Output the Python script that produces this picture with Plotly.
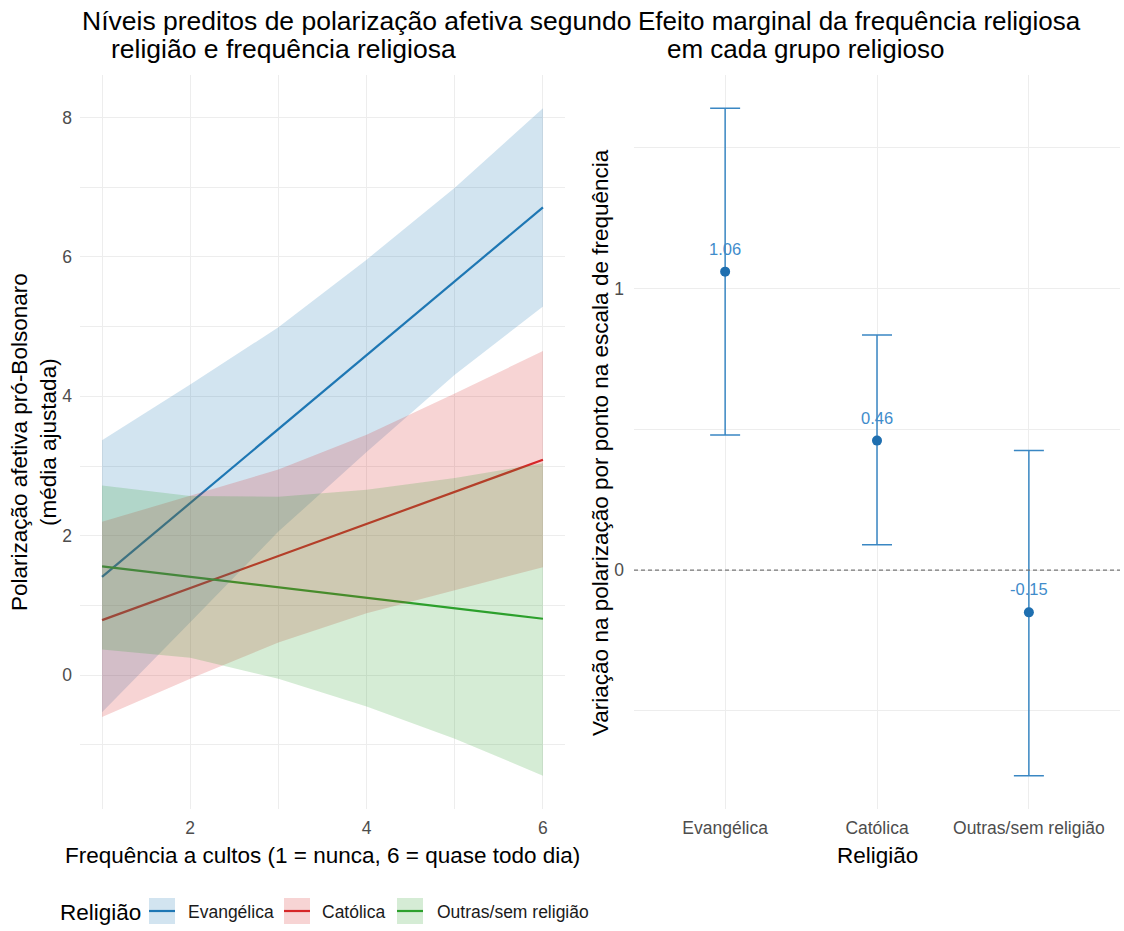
import plotly.graph_objects as go
from plotly.subplots import make_subplots

# ---------------- data ----------------
freq = [1, 2, 3, 4, 5, 6]
freq_ticks = [2, 4, 6]

evang_fit = [1.41, 2.47, 3.53, 4.59, 5.65, 6.71]
evang_lo = [-0.53, 0.76, 2.06, 3.20, 4.31, 5.29]
evang_hi = [3.37, 4.17, 4.99, 5.96, 6.99, 8.13]

cat_fit = [0.79, 1.25, 1.71, 2.17, 2.63, 3.09]
cat_lo = [-0.60, -0.05, 0.47, 0.89, 1.22, 1.55]
cat_hi = [2.20, 2.57, 2.95, 3.45, 4.04, 4.65]

outras_fit = [1.56, 1.41, 1.26, 1.11, 0.96, 0.81]
outras_lo = [0.37, 0.25, -0.05, -0.45, -0.91, -1.44]
outras_hi = [2.72, 2.57, 2.56, 2.66, 2.83, 3.04]

religioes = ["Evangélica", "Católica", "Outras/sem religião"]
efeito = [1.06, 0.46, -0.15]
efeito_lo = [0.48, 0.09, -0.73]
efeito_hi = [1.64, 0.835, 0.425]

# ---------------- style ----------------
W, H = 1124, 931
FONT = "Liberation Sans, Arial, sans-serif"
COLORS = ["#1f77b4", "#d62728", "#2ca02c"]
FILLS = ["rgba(31,119,180,0.2)", "rgba(214,39,40,0.2)", "rgba(44,160,44,0.2)"]
GRID = "#ededed"
TICKC = "#4d4d4d"


def px(x):
    return x / W


def py(y):
    return 1 - y / H


fig = make_subplots(rows=1, cols=2)

series = [
    (religioes[0], evang_fit, evang_lo, evang_hi),
    (religioes[1], cat_fit, cat_lo, cat_hi),
    (religioes[2], outras_fit, outras_lo, outras_hi),
]

# lines first (ribbons drawn over them, as in the reference)
for i, (name, fit, lo, hi) in enumerate(series):
    fig.add_trace(go.Scatter(x=freq, y=fit, mode="lines", name=name,
                             line=dict(color=COLORS[i], width=2.2),
                             showlegend=False), row=1, col=1)
for i, (name, fit, lo, hi) in enumerate(series):
    fig.add_trace(go.Scatter(x=freq + freq[::-1], y=hi + lo[::-1], mode="lines",
                             fill="toself", fillcolor=FILLS[i],
                             line=dict(width=0), name=name, hoverinfo="skip",
                             showlegend=False), row=1, col=1)

# right panel: marginal effects
err_plus = [h - e for h, e in zip(efeito_hi, efeito)]
err_minus = [e - l for e, l in zip(efeito, efeito_lo)]
fig.add_trace(go.Scatter(x=religioes, y=efeito, mode="markers",
                         marker=dict(color="#1f6fb0", size=10),
                         error_y=dict(type="data", array=err_plus, arrayminus=err_minus,
                                      color="#3a87c3", thickness=1.5, width=15),
                         showlegend=False), row=1, col=2)

# ranges (ggplot-like 5% expansion)
ly_min = min(evang_lo + cat_lo + outras_lo)
ly_max = max(evang_hi + cat_hi + outras_hi)
lpad = 0.05 * (ly_max - ly_min)
ry_min = min(efeito_lo)
ry_max = max(efeito_hi)
rpad = 0.05 * (ry_max - ry_min)

ydom = [py(809), py(75)]
axis_common = dict(showline=False, zeroline=False, ticks="", gridcolor=GRID, gridwidth=1.4,
                   tickfont=dict(family=FONT, size=17.5, color=TICKC))

fig.update_layout(
    width=W, height=H, margin=dict(l=0, r=0, t=0, b=0),
    plot_bgcolor="white", paper_bgcolor="white",
    font=dict(family=FONT),
    xaxis=dict(domain=[px(80), px(565)], range=[0.75, 6.25], tickmode="array",
               tickvals=freq_ticks, ticklabelstandoff=6,
               minor=dict(dtick=1, tick0=0, showgrid=True, gridcolor=GRID, gridwidth=0.9),
               **axis_common),
    yaxis=dict(domain=ydom, range=[ly_min - lpad, ly_max + lpad], dtick=2, tick0=0,
               ticklabelstandoff=7,
               minor=dict(dtick=1, tick0=0, showgrid=True, gridcolor=GRID, gridwidth=0.9),
               **axis_common),
    xaxis2=dict(domain=[px(634), px(1120)], range=[-0.6, 2.6], type="category",
                ticklabelstandoff=6, **axis_common),
    yaxis2=dict(domain=ydom, range=[ry_min - rpad, ry_max + rpad], dtick=1, tick0=0,
                ticklabelstandoff=9,
                minor=dict(dtick=0.5, tick0=0, showgrid=True, gridcolor=GRID, gridwidth=0.9),
                **axis_common),
)

# dashed zero line
fig.add_shape(type="line", xref="x2 domain", yref="y2", x0=0, x1=1, y0=0, y1=0,
              line=dict(color="#777777", width=1.1, dash="4px,3px"))

# value labels
for r, e in zip(religioes, efeito):
    fig.add_annotation(x=r, y=e, xref="x2", yref="y2", text=f"{e:.2f}", showarrow=False,
                       yshift=23, font=dict(family=FONT, size=16.5, color="#3f8ccb"))


def ann(text, x, y, size, color="black", xanchor="left", angle=0):
    fig.add_annotation(text=text, x=px(x), y=py(y), xref="paper", yref="paper",
                       showarrow=False, xanchor=xanchor, yanchor="middle",
                       textangle=angle, font=dict(family=FONT, size=size, color=color))


# titles
ann("Níveis preditos de polarização afetiva segundo", 80, 21, 26.5)
ann("religião e frequência religiosa", 109, 49, 26.5)
ann("Efeito marginal da frequência religiosa", 636, 21, 26)
ann("em cada grupo religioso", 665, 49, 26)

# axis titles
ann("Frequência a cultos (1 = nunca, 6 = quase todo dia)", 322.5, 855, 22.5, xanchor="center")
ann("Religião", 877, 855, 22.5, xanchor="center")
ann("Polarização afetiva pró-Bolsonaro<br>(média ajustada)", 34, 442, 22.5,
    xanchor="center", angle=-90)
ann("Variação na polarização por ponto na escala de frequência", 600, 442, 22.5,
    xanchor="center", angle=-90)

# manual legend (ggplot style keys)
ann("Religião", 58, 912, 22.5)
key_x = [149, 284, 397]
text_x = [186, 320, 435]
for i, name in enumerate(religioes):
    fig.add_shape(type="rect", xref="paper", yref="paper",
                  x0=px(key_x[i]), x1=px(key_x[i] + 26), y0=py(924), y1=py(898),
                  fillcolor=FILLS[i], line=dict(width=0))
    fig.add_shape(type="line", xref="paper", yref="paper",
                  x0=px(key_x[i]), x1=px(key_x[i] + 26), y0=py(911), y1=py(911),
                  line=dict(color=COLORS[i], width=2.2))
    ann(name, text_x[i], 912, 17.5, color="#1a1a1a")

fig.write_html("out.html", config={"displayModeBar": False},
               post_script="document.body.style.margin='0px';")
